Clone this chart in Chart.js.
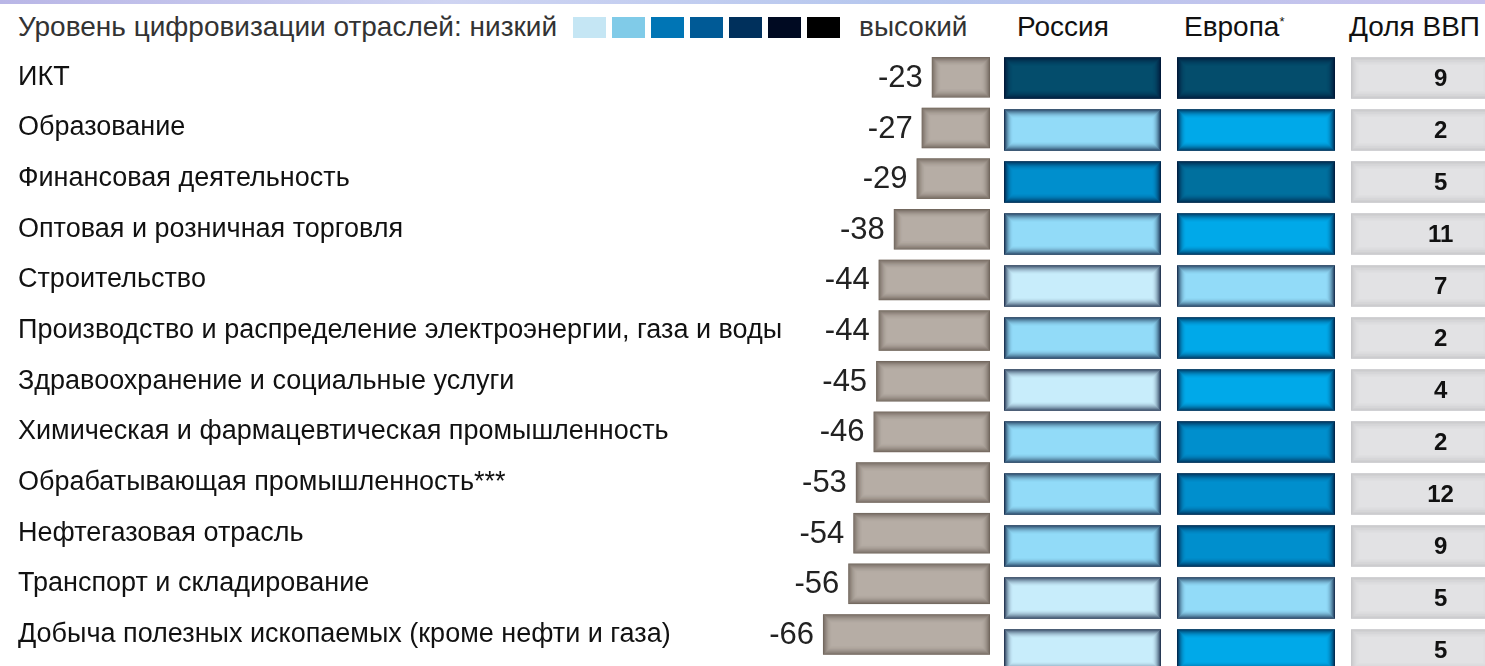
<!DOCTYPE html>
<html lang="ru">
<head>
<meta charset="utf-8">
<script src="https://cdn.jsdelivr.net/npm/chart.js@4.4.1/dist/chart.umd.min.js"></script>
<style>
  html, body { margin: 0; padding: 0; background: #fff; width: 1485px; height: 666px; overflow: hidden;
    font-family: "Liberation Sans", Arial, sans-serif; }
  .box { position: absolute; top: 0; height: 676px; }
  .strip { position: absolute; left: 0; top: 0; width: 1485px; height: 4px;
    background: linear-gradient(90deg, #b9b6e6, #cfd4f2 30%, #b6c7ee 60%, #c9c2ec); }
  #legend { position: absolute; left: 18px; top: 11px; font-size: 28px; color: #333; white-space: nowrap;
    display: flex; align-items: center; }
  #swatches { display: inline-flex; margin: 0 13px 0 16px; }
  .sw { display: inline-block; width: 33px; height: 21px; margin-right: 6px; }
  .hd { position: absolute; top: 11px; font-size: 28px; color: #111; white-space: nowrap; }
</style>
</head>
<body>
<div class="strip"></div>
<div id="legend">Уровень цифровизации отраслей:&nbsp;низкий<span id="swatches"></span>высокий</div>
<div class="hd" style="left:1017px">Россия</div>
<div class="hd" style="left:1184px">Европа<sup style="font-size:13px">*</sup></div>
<div class="hd" style="left:1349px">Доля ВВП</div>

<div class="box" style="left:0;width:1000px"><canvas id="gapChart"></canvas></div>
<div class="box" style="left:1004px;width:157px"><canvas id="ruChart"></canvas></div>
<div class="box" style="left:1177px;width:158px"><canvas id="euChart"></canvas></div>
<div class="box" style="left:1351px;width:140px"><canvas id="gdpChart"></canvas></div>

<script>
// Отрасли
const sectors = [
  'ИКТ',
  'Образование',
  'Финансовая деятельность',
  'Оптовая и розничная торговля',
  'Строительство',
  'Производство и распределение электроэнергии, газа и воды',
  'Здравоохранение и социальные услуги',
  'Химическая и фармацевтическая промышленность',
  'Обрабатывающая промышленность***',
  'Нефтегазовая отрасль',
  'Транспорт и складирование',
  'Добыча полезных ископаемых (кроме нефти и газа)'
];
// Отставание России от Европы, %
const gap = [-23, -27, -29, -38, -44, -44, -45, -46, -53, -54, -56, -66];
// Уровень цифровизации (1 - низкий ... 7 - высокий)
const ruLevel = [6, 2, 4, 2, 1, 2, 1, 2, 2, 2, 1, 1];
const euLevel = [6, 3, 5, 3, 2, 3, 3, 4, 4, 4, 2, 3];
// Доля ВВП, %
const gdpShare = [9, 2, 5, 11, 7, 2, 4, 2, 12, 9, 5, 5];

const levelColors = ['#c8edfb', '#92dbf8', '#00a9e9', '#008fcd', '#00709e', '#044d6c', '#000000'];
const legendColors = ['#c5e6f4', '#80cbe8', '#0075b5', '#005a96', '#00305c', '#000a22', '#000000'];

legendColors.forEach(c => {
  const s = document.createElement('span');
  s.className = 'sw';
  s.style.background = c;
  document.getElementById('swatches').appendChild(s);
});

// Затемнение краёв столбцов
const edgeShade = {
  id: 'edgeShade',
  afterDatasetsDraw(chart, args, opts) {
    const ctx = chart.ctx;
    const meta = chart.getDatasetMeta(0);
    meta.data.forEach(bar => {
      const p = bar.getProps(['x', 'y', 'base', 'height'], true);
      const l = Math.min(p.x, p.base), r = Math.max(p.x, p.base);
      const t = p.y - p.height / 2, h = p.height, w = r - l;
      ctx.save();
      for (let i = 0; i < 9; i++) {
        ctx.strokeStyle = `rgba(${opts.rgb},${opts.alpha * Math.pow(1 - i / 9, 2)})`;
        ctx.lineWidth = 1;
        ctx.strokeRect(l + i + 0.5, t + i + 0.5, w - 2 * i - 1, h - 2 * i - 1);
      }
      ctx.restore();
    });
  }
};

// Подписи значений
const valueText = {
  id: 'valueText',
  afterDatasetsDraw(chart, args, opts) {
    if (!opts.values) return;
    const ctx = chart.ctx;
    const meta = chart.getDatasetMeta(0);
    ctx.save();
    ctx.font = opts.font;
    ctx.fillStyle = opts.color;
    ctx.textBaseline = 'middle';
    meta.data.forEach((bar, i) => {
      const p = bar.getProps(['x', 'y', 'base'], true);
      if (opts.mode === 'left') {
        ctx.textAlign = 'right';
        ctx.fillText(String(opts.values[i]), Math.min(p.x, p.base) - 9, p.y + 1);
      } else {
        ctx.textAlign = 'center';
        ctx.fillText(String(opts.values[i]), p.base + (p.x - p.base) * opts.pos, p.y + 1);
      }
    });
    ctx.restore();
  }
};

const baseOptions = (xScale, yScale, plugins) => ({
  indexAxis: 'y',
  responsive: true,
  maintainAspectRatio: false,
  animation: false,
  layout: { padding: { top: 52, bottom: 0, left: 0, right: 0 } },
  scales: { x: xScale, y: yScale },
  plugins: Object.assign({ legend: { display: false }, tooltip: { enabled: false } }, plugins)
});

// Левая часть: отрасли и отставание
new Chart(document.getElementById('gapChart'), {
  type: 'bar',
  data: {
    labels: sectors,
    datasets: [{ data: gap, backgroundColor: '#b6ada5', barPercentage: 0.8, categoryPercentage: 1 }]
  },
  options: Object.assign(baseOptions(
    { min: -81, max: 0, display: false },
    {
      position: 'left',
      grid: { display: false }, border: { display: false },
      afterFit(scale) { scale.width = 767; },
      ticks: { crossAlign: 'far', padding: 0, color: '#111',
        font: { family: '"Liberation Sans", Arial, sans-serif', size: 27 } }
    },
    {
      edgeShade: { rgb: '70,58,48', alpha: 0.6 },
      valueText: { values: gap, mode: 'left', color: '#222',
        font: '31px "Liberation Sans", Arial, sans-serif' }
    }
  ), { layout: { padding: { top: 52, left: 18, right: 10, bottom: 0 } } }),
  plugins: [edgeShade, valueText]
});

// Столбцы уровня цифровизации
function levelChart(id, levels) {
  new Chart(document.getElementById(id), {
    type: 'bar',
    data: {
      labels: sectors,
      datasets: [{ data: levels.map(() => 1), backgroundColor: levels.map(l => levelColors[l - 1]),
        barPercentage: 0.8, categoryPercentage: 1 }]
    },
    options: baseOptions(
      { min: 0, max: 1, display: false },
      { display: false },
      { edgeShade: { rgb: '0,12,45', alpha: 0.8 } }
    ),
    plugins: [edgeShade]
  });
}
levelChart('ruChart', ruLevel);
levelChart('euChart', euLevel);

// Доля ВВП
new Chart(document.getElementById('gdpChart'), {
  type: 'bar',
  data: {
    labels: sectors,
    datasets: [{ data: gdpShare.map(() => 1), backgroundColor: '#e2e2e4', barPercentage: 0.8, categoryPercentage: 1 }]
  },
  options: baseOptions(
    { min: 0, max: 1, display: false },
    { display: false },
    {
      edgeShade: { rgb: '150,150,155', alpha: 0.35 },
      valueText: { values: gdpShare, mode: 'center', pos: 0.64, color: '#111',
        font: 'bold 24px "Liberation Sans", Arial, sans-serif' }
    }
  ),
  plugins: [edgeShade, valueText]
});
</script>
</body>
</html>
